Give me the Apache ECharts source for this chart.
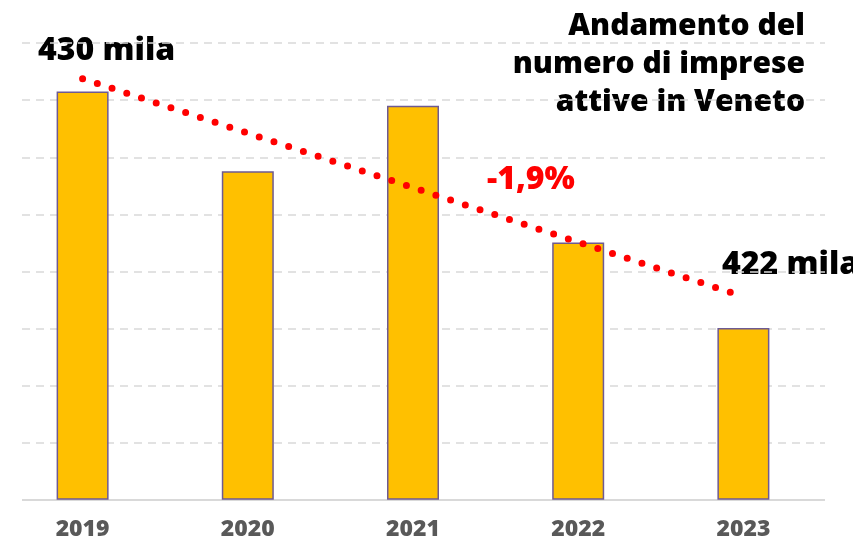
<!DOCTYPE html>
<html>
<head>
<meta charset="utf-8">
<script src="https://cdn.jsdelivr.net/npm/echarts@6/dist/echarts.min.js"></script>
<style>
  html, body { margin: 0; padding: 0; background: #fff; }
  #chart { width: 853px; height: 541px; }
</style>
</head>
<body>
<div id="chart"></div>
<script>
// anni e imprese attive (migliaia)
const years = ['2019', '2020', '2021', '2022', '2023'];
const imprese = [430.3, 427.5, 429.8, 425.0, 422.0];
// linea di tendenza: solo estremi, il resto vuoto
const tendenza = [430.75, null, null, null, 423.1];
const yMin = 416, yMax = 432, yStep = 2;

const titolo = ['Andamento del', 'numero di imprese', 'attive in Veneto'];

const FONT = '"Open Sans", Inter, sans-serif';

const chart = echarts.init(document.getElementById('chart'), null, { renderer: 'canvas' });

const options = {
  animation: false,
  grid: [
    { left: -4, width: 830, top: 43, height: 457 }, // barre
    { left: 22, right: 28, top: 43, height: 457 }   // griglia tratteggiata
  ],
  xAxis: [
    {
      type: 'category',
      gridIndex: 0,
      data: years,
      axisLine: { show: false },
      axisTick: { show: false },
      axisLabel: {
        color: '#595959',
        fontFamily: FONT,
        fontWeight: 800,
        fontSize: 23,
        margin: 19
      }
    },
    {
      type: 'value',
      gridIndex: 1,
      min: 0,
      max: 1,
      axisLine: { show: false },
      axisTick: { show: false },
      axisLabel: { show: false },
      splitLine: { show: false }
    }
  ],
  yAxis: [
    {
      type: 'value',
      gridIndex: 0,
      min: yMin,
      max: yMax,
      interval: yStep,
      show: false
    },
    {
      type: 'value',
      gridIndex: 1,
      min: yMin,
      max: yMax,
      interval: yStep,
      axisLine: { show: false },
      axisTick: { show: false },
      axisLabel: { show: false },
      splitLine: {
        show: true,
        lineStyle: { color: '#D9D9D9', width: 1.5, type: [8, 6] }
      }
    }
  ],
  series: [
    {
      // linea di base
      type: 'line',
      xAxisIndex: 1,
      yAxisIndex: 1,
      data: [[0, yMin], [1, yMin]],
      symbol: 'none',
      lineStyle: { color: '#D9D9D9', width: 2 },
      z: 1
    },
    {
      name: 'Imprese attive',
      type: 'bar',
      xAxisIndex: 0,
      yAxisIndex: 0,
      data: imprese,
      barWidth: 52,
      itemStyle: {
        color: '#FFC000',
        borderColor: '#6E5A92',
        borderWidth: 1.5
      },
      z: 2
    },
    {
      name: 'Tendenza',
      type: 'line',
      xAxisIndex: 0,
      yAxisIndex: 0,
      data: tendenza,
      connectNulls: true,
      symbol: 'none',
      lineStyle: {
        color: '#FF0000',
        width: 7,
        type: [0, 15.5],
        cap: 'round'
      },
      z: 3
    }
  ],
  graphic: titolo.map((riga, i) => ({
    type: 'text',
    right: 48,
    top: 11 + i * 38,
    style: { text: riga, font: '800 30px ' + FONT, fill: '#000' }
  })).concat([
    {
      type: 'text',
      left: 38,
      top: 35,
      style: { text: '430 mila', font: '800 32px ' + FONT, fill: '#000' }
    },
    {
      type: 'text',
      left: 722,
      top: 249,
      style: { text: '422 mila', font: '800 32px ' + FONT, fill: '#000' }
    },
    {
      type: 'text',
      left: 487,
      top: 164,
      style: { text: '-1,9%', font: '800 32px ' + FONT, fill: '#FF0000' }
    }
  ])
};

chart.setOption(options);
</script>
</body>
</html>
